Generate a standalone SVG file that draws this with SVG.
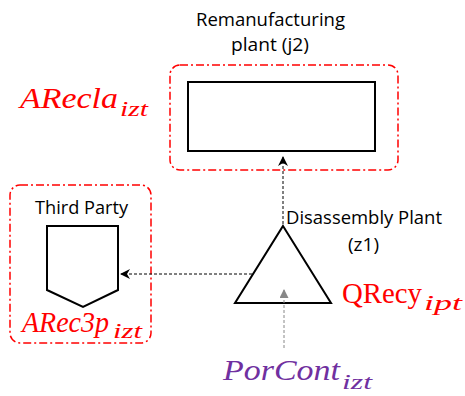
<svg xmlns="http://www.w3.org/2000/svg" width="465" height="396" viewBox="0 0 465 396">
<style>
.lbl{font-family:"Open Sans","Liberation Sans",sans-serif;font-size:17.5px;fill:#000}
.grp{fill:none;stroke:#ff0000;stroke-width:1.5;stroke-dasharray:8 3 2 3}
.shape{fill:#fff;stroke:#000;stroke-width:2}
.math{font-family:"Liberation Serif",serif;font-style:italic;font-size:30px}
.up{font-style:normal}
.sub{font-size:22px}
.red{fill:#ff0000}
.pur{fill:#7030a0}
.con{fill:none;stroke:#000;stroke-width:1;stroke-dasharray:3 2}
</style>
<defs>
<marker id="ah" markerWidth="10" markerHeight="10" refX="9" refY="5" orient="auto" markerUnits="userSpaceOnUse">
<path d="M0,0 L10,5 L0,10 L3,5 Z" fill="#000"/>
</marker>
<marker id="ag" markerWidth="10" markerHeight="10" refX="9" refY="4.5" orient="auto" markerUnits="userSpaceOnUse">
<path d="M0,0 L9,4.5 L0,9 Z" fill="#888"/>
</marker>
</defs>
<g id="remanufacturing">
<text class="lbl" x="196" y="26" textLength="149" lengthAdjust="spacingAndGlyphs">Remanufacturing</text>
<text class="lbl" x="231" y="51" textLength="78" lengthAdjust="spacingAndGlyphs">plant (j2)</text>
<rect class="grp" x="170" y="65" width="228" height="105" rx="10"/>
<rect class="shape" x="188" y="82" width="187" height="69"/>
<text class="math red" x="20" y="108" textLength="98" lengthAdjust="spacingAndGlyphs">ARecla</text>
<text class="math sub red" x="120" y="116" textLength="28" lengthAdjust="spacingAndGlyphs">izt</text>
</g>
<g id="thirdparty">
<rect class="grp" x="10" y="185" width="141" height="158" rx="10"/>
<text class="lbl" x="35" y="214" textLength="93" lengthAdjust="spacingAndGlyphs">Third Party</text>
<polygon class="shape" points="47,226 118,226 118,290 83,307 47,290"/>
<text class="math red" x="22" y="332" textLength="87" lengthAdjust="spacingAndGlyphs">ARec3p</text>
<text class="math sub red" x="113" y="338" textLength="29" lengthAdjust="spacingAndGlyphs">izt</text>
</g>
<g id="disassembly">
<polygon class="shape" points="283,226 331,303 235,303" style="fill:none"/>
<text class="lbl" x="286" y="224" textLength="156" lengthAdjust="spacingAndGlyphs">Disassembly Plant</text>
<text class="lbl" x="348" y="251" textLength="31" lengthAdjust="spacingAndGlyphs">(z1)</text>
<text class="math up red" x="342" y="303" textLength="80" lengthAdjust="spacingAndGlyphs">QRecy</text>
<text class="math sub red" x="424" y="310" textLength="38" lengthAdjust="spacingAndGlyphs">ipt</text>
</g>
<g id="porcont">
<text class="math pur" x="223" y="380" textLength="117" lengthAdjust="spacingAndGlyphs">PorCont</text>
<text class="math sub pur" x="342" y="389" textLength="30" lengthAdjust="spacingAndGlyphs">izt</text>
</g>
<g id="connectors">
<line class="con" x1="283" y1="224" x2="283" y2="157" marker-end="url(#ah)"/>
<line class="con" x1="252" y1="274" x2="121" y2="274" marker-end="url(#ah)"/>
<line class="con" x1="284" y1="348" x2="284" y2="289" style="stroke:#888" marker-end="url(#ag)"/>
</g>
</svg>
